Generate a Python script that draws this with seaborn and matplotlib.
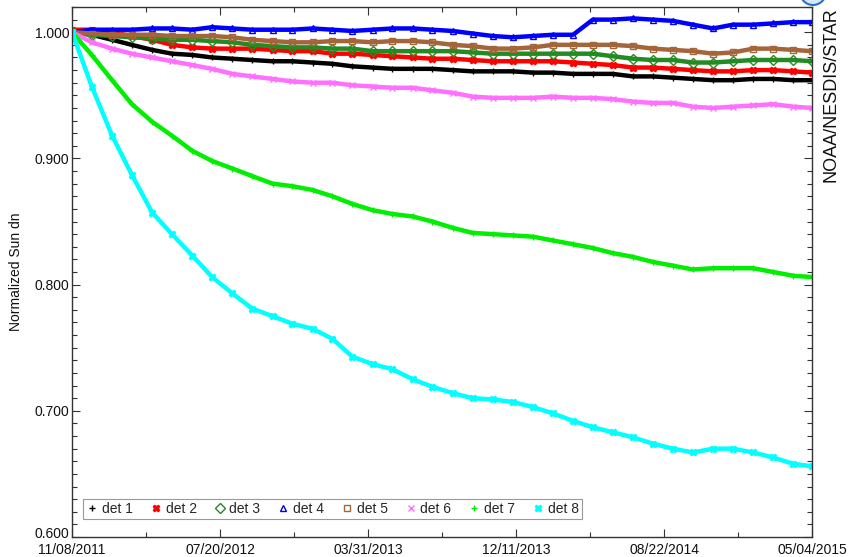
import matplotlib
matplotlib.use("Agg")
import matplotlib.pyplot as plt
import matplotlib.dates as mdates
from matplotlib.lines import Line2D
from matplotlib.patches import Ellipse
from matplotlib.transforms import ScaledTranslation
from matplotlib.ticker import MultipleLocator, FixedLocator, FormatStrFormatter
import seaborn as sns
import pandas as pd
import numpy as np

# sample dates (roughly every 34 days)
dates = ['2011-11-08', '2011-12-12', '2012-01-16', '2012-02-19', '2012-03-25', '2012-04-28',
         '2012-06-02', '2012-07-06', '2012-08-10', '2012-09-13', '2012-10-18', '2012-11-21',
         '2012-12-26', '2013-01-29', '2013-03-04', '2013-04-08', '2013-05-12', '2013-06-16',
         '2013-07-20', '2013-08-24', '2013-09-27', '2013-11-01', '2013-12-05', '2014-01-09',
         '2014-02-12', '2014-03-19', '2014-04-22', '2014-05-26', '2014-06-30', '2014-08-03',
         '2014-09-07', '2014-10-11', '2014-11-15', '2014-12-19', '2015-01-23', '2015-02-26',
         '2015-04-02', '2015-05-04']

det1 = [1.000, 0.998, 0.994, 0.990, 0.986, 0.983, 0.982, 0.980, 0.979, 0.978, 0.977, 0.977,
        0.976, 0.975, 0.973, 0.972, 0.971, 0.971, 0.971, 0.970, 0.969, 0.969, 0.969, 0.968,
        0.968, 0.967, 0.967, 0.967, 0.965, 0.965, 0.964, 0.963, 0.962, 0.962, 0.963, 0.963,
        0.962, 0.962]
det2 = [1.002, 1.002, 1.000, 0.997, 0.994, 0.990, 0.988, 0.987, 0.987, 0.987, 0.986, 0.985,
        0.985, 0.983, 0.983, 0.982, 0.981, 0.980, 0.979, 0.979, 0.978, 0.977, 0.977, 0.977,
        0.977, 0.976, 0.975, 0.974, 0.972, 0.972, 0.971, 0.970, 0.969, 0.969, 0.970, 0.970,
        0.969, 0.968]
det3 = [1.000, 0.998, 0.997, 0.996, 0.995, 0.994, 0.994, 0.993, 0.992, 0.990, 0.989, 0.988,
        0.988, 0.987, 0.987, 0.985, 0.985, 0.985, 0.985, 0.985, 0.984, 0.983, 0.983, 0.983,
        0.983, 0.983, 0.983, 0.981, 0.979, 0.978, 0.978, 0.976, 0.976, 0.977, 0.978, 0.978,
        0.978, 0.977]
det4 = [1.000, 1.002, 1.002, 1.002, 1.003, 1.003, 1.002, 1.004, 1.003, 1.002, 1.002, 1.002,
        1.003, 1.002, 1.001, 1.002, 1.003, 1.003, 1.002, 1.001, 0.999, 0.997, 0.996, 0.997,
        0.998, 0.998, 1.010, 1.010, 1.011, 1.010, 1.009, 1.006, 1.003, 1.006, 1.006, 1.007,
        1.008, 1.008]
det5 = [1.000, 0.999, 0.998, 0.998, 0.998, 0.997, 0.997, 0.997, 0.996, 0.994, 0.993, 0.992,
        0.992, 0.993, 0.993, 0.992, 0.993, 0.993, 0.992, 0.990, 0.989, 0.987, 0.987, 0.988,
        0.990, 0.990, 0.990, 0.990, 0.989, 0.987, 0.986, 0.985, 0.983, 0.984, 0.987, 0.987,
        0.986, 0.985]
det6 = [1.000, 0.992, 0.987, 0.983, 0.980, 0.977, 0.974, 0.971, 0.967, 0.965, 0.963, 0.961,
        0.960, 0.960, 0.958, 0.957, 0.956, 0.956, 0.954, 0.952, 0.949, 0.948, 0.948, 0.948,
        0.949, 0.948, 0.948, 0.947, 0.945, 0.944, 0.944, 0.941, 0.940, 0.941, 0.942, 0.943,
        0.941, 0.940]
det7 = [1.000, 0.982, 0.962, 0.943, 0.929, 0.918, 0.906, 0.898, 0.892, 0.886, 0.880, 0.878,
        0.875, 0.870, 0.864, 0.859, 0.856, 0.854, 0.850, 0.845, 0.841, 0.840, 0.839, 0.838,
        0.835, 0.832, 0.829, 0.825, 0.822, 0.818, 0.815, 0.812, 0.813, 0.813, 0.813, 0.810,
        0.807, 0.806]
det8 = [1.000, 0.957, 0.918, 0.887, 0.857, 0.840, 0.823, 0.806, 0.793, 0.781, 0.775, 0.769,
        0.765, 0.757, 0.743, 0.737, 0.733, 0.725, 0.719, 0.714, 0.710, 0.709, 0.707, 0.703,
        0.698, 0.692, 0.687, 0.683, 0.679, 0.674, 0.670, 0.667, 0.670, 0.670, 0.667, 0.663,
        0.658, 0.656]

labels = ['det 1', 'det 2', 'det 3', 'det 4', 'det 5', 'det 6', 'det 7', 'det 8']
colors = ['black', '#ff0000', '#228b22', '#0000ff', '#a5653a', '#ff70ff', '#00ee00', '#00ffff']
markers = ['+', 'X', 'D', '^', 's', 'x', '+', 'X']
hollow = [False, False, True, True, True, False, False, False]

tick_labels = ['11/08/2011', '07/20/2012', '03/31/2013', '12/11/2013', '08/22/2014', '05/04/2015']

sns.set_style('ticks')
plt.rcParams['font.family'] = ['Liberation Sans', 'DejaVu Sans']

fig = plt.figure(figsize=(8.5, 5.57), dpi=100)
ax = fig.add_axes([72 / 850, 20 / 557, 740 / 850, 530 / 557])

t = pd.to_datetime(dates)
series = [det1, det2, det3, det4, det5, det6, det7, det8]
for vals, lab, c, m, h in zip(series, labels, colors, markers, hollow):
    sns.lineplot(x=t, y=vals, ax=ax, color=c, lw=3.2, marker=m, markersize=5,
                 markerfacecolor='none' if h else c, markeredgecolor=c,
                 markeredgewidth=1, legend=False)

# axes ranges and ticks
x0 = mdates.date2num(pd.Timestamp('2011-11-08'))
x1 = mdates.date2num(pd.Timestamp('2015-05-04'))
ax.set_xlim(x0, x1)
ax.set_ylim(0.6, 1.02)
ax.xaxis.set_major_locator(FixedLocator(np.linspace(x0, x1, 6)))
ax.xaxis.set_minor_locator(FixedLocator(np.linspace(x0, x1, 11)))
ax.set_xticklabels(tick_labels)
ax.yaxis.set_major_locator(FixedLocator([0.6, 0.7, 0.8, 0.9, 1.0]))
ax.yaxis.set_minor_locator(MultipleLocator(0.01))
ax.yaxis.set_major_formatter(FormatStrFormatter('%.3f'))
ax.tick_params(which='both', direction='in', top=True, right=True, width=0.8,
               color='#333333', labelsize=10, labelcolor='#111111')
ax.tick_params(which='major', length=6)
ax.tick_params(which='minor', length=3.5)
ax.tick_params(axis='y', pad=2)
ax.tick_params(axis='x', pad=4)
for sp in ax.spines.values():
    sp.set_color('#333333')
    sp.set_linewidth(1)

# lift the bottom y label a little so it clears the first date label
lowest = ax.yaxis.get_major_ticks()[0].label1
lowest.set_transform(lowest.get_transform() + ScaledTranslation(0, 5 / 100, fig.dpi_scale_trans))

ax.set_xlabel('')
ax.set_ylabel('Normalized Sun dn', fontsize=10, color='#111111')
ax.yaxis.set_label_coords(-49 / 740, 0.5)

# legend with markers only
handles = [Line2D([], [], ls='none', marker=m, color=c, markersize=5,
                  markerfacecolor='none' if h else c, markeredgewidth=1)
           for c, m, h in zip(colors, markers, hollow)]
leg = ax.legend(handles, labels, ncol=8, loc='lower left', bbox_to_anchor=(0.006, 0.02),
                frameon=True, fancybox=False, edgecolor='#999999', fontsize=10,
                handlelength=0.8, handletextpad=0.3, columnspacing=1.25,
                borderpad=0.25, framealpha=1)
leg.get_frame().set_linewidth(0.8)

fig.text(831 / 850, 1 - 95 / 557, 'NOAA/NESDIS/STAR', rotation=90, ha='center',
         va='center', fontsize=13, color='#111111')

# small logo peeking at top right
fig.patches.append(Ellipse((813 / 850, 1 + 8 / 557), 26 / 850, 26 / 557,
                           transform=fig.transFigure, facecolor='#d6e8f8',
                           edgecolor='#2a6fc9', lw=1.5))

fig.savefig('out.png', dpi=100)
